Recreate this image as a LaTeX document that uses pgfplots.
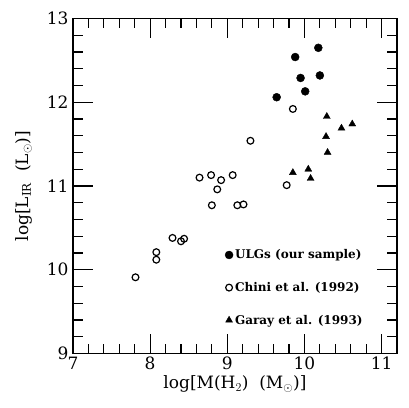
\documentclass[border=0pt]{standalone}
\usepackage{fontspec}
\setmainfont{DejaVu Serif}
\usepackage{pgfplots}
\pgfplotsset{compat=1.18}
\usepackage{amssymb}

\begin{document}
\begin{tikzpicture}
\begin{axis}[
  scale only axis,
  width=324pt, height=335pt,
  xmin=7, xmax=11.2, ymin=9, ymax=13,
  xtick={7,8,9,10,11}, ytick={9,10,11,12,13},
  minor tick num=4,
  tick align=inside,
  xtick pos=both, ytick pos=both,
  major tick length=20pt, minor tick length=10pt,
  every tick/.style={black, line width=1.1pt},
  axis line style={line width=1.4pt},
  /pgf/number format/assume math mode=true,
  tick label style={font=\fontsize{17}{17}\selectfont},
  yticklabel style={xshift=-1pt},
  label style={font=\fontsize{17}{17}\selectfont},
  xlabel={log[M(H$_2$)~~(M$_\odot$)]},
  ylabel={log[L$_{\rm IR}$~~(L$_\odot$)]},
  xlabel style={yshift=1pt},
  ylabel style={yshift=8pt},
  legend cell align=left,
  legend style={
    draw=none, fill=none,
    at={(axis cs:8.93,10.29)}, anchor=north west,
    font=\bfseries\fontsize{12}{12}\selectfont,
    row sep=18pt,
  },
]

% ULGs (our sample)
\addplot[only marks, mark=*, mark size=4pt, black]
  coordinates {(9.88,12.54)(10.18,12.65)(9.95,12.29)(10.20,12.32)(10.01,12.13)(9.64,12.06)};
\addlegendentry{ULGs (our sample)}

% Chini et al. (1992)
\addplot[only marks, mark=o, mark size=3.4pt, black, line width=1.2pt]
  coordinates {(9.85,11.92)(9.30,11.54)(8.64,11.10)(8.79,11.13)(8.92,11.07)(9.07,11.13)
               (8.87,10.96)(9.77,11.01)(8.80,10.77)(9.13,10.77)(9.21,10.78)(8.29,10.38)
               (8.40,10.34)(8.44,10.37)(8.08,10.21)(8.08,10.12)(7.81,9.91)};
\addlegendentry{Chini et al. (1992)}

% Garay et al. (1993)
\addplot[only marks, mark=triangle*, mark size=4pt, black]
  coordinates {(10.29,11.83)(10.48,11.69)(10.62,11.74)(10.28,11.59)(10.30,11.40)
               (9.85,11.16)(10.05,11.20)(10.08,11.09)};
\addlegendentry{Garay et al. (1993)}

\end{axis}
\path (current axis.south west) ++(-73pt,-53.5pt) (current axis.north east) ++(12pt,18.5pt);
\end{tikzpicture}
\end{document}
